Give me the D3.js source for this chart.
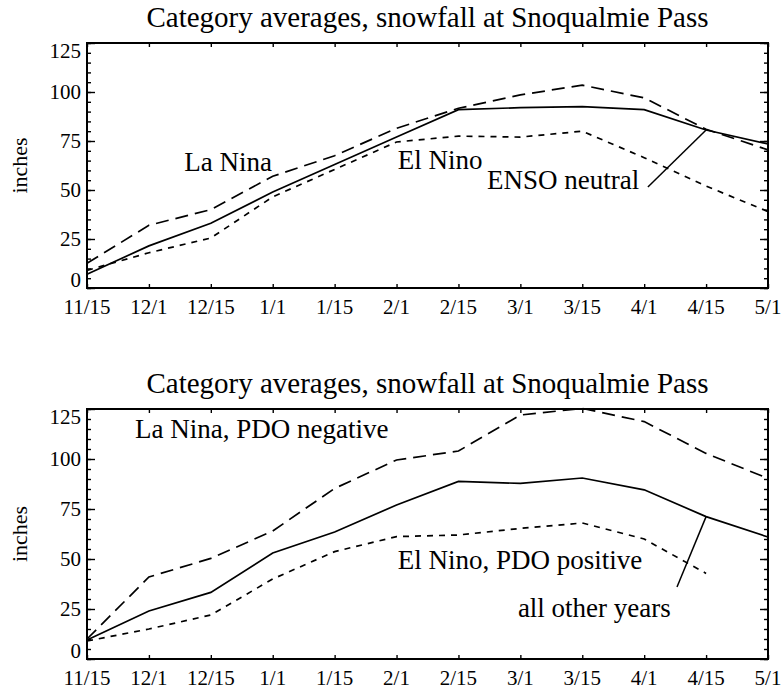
<!DOCTYPE html>
<html>
<head>
<meta charset="utf-8">
<script src="https://cdn.jsdelivr.net/npm/d3@7"></script>
<style>
  body { margin: 0; background: #fff; }
  svg { display: block; }
  text { font-family: "Liberation Serif", "Times New Roman", serif; fill: #000; }
</style>
</head>
<body>
<svg id="chart" width="784" height="696"></svg>
<script>
let dates = ['11/15', '12/1', '12/15', '1/1', '1/15', '2/1', '2/15', '3/1', '3/15', '4/1', '4/15', '5/1'];
let yTicks = [0, 25, 50, 75, 100, 125];
let titleText = 'Category averages, snowfall at Snoqualmie Pass';

// top panel
let ensoNeutral = [7, 21.5, 33, 49, 63, 77, 91, 92, 92.5, 91, 80.6, 73.5];
let laNina = [12.6, 32, 40, 57, 67.5, 81.5, 91.7, 98.5, 103.5, 97, 81, 70.5];
let elNino = [9, 18, 25.5, 46.5, 60.5, 74.5, 77.5, 77, 80, 66.5, 52, 39];

// bottom panel
let allOther = [9.5, 24, 33.3, 53, 63.5, 77, 88.8, 87.8, 90.5, 84.6, 71.2, 61];
let laNinaPdoNeg = [10, 41, 50.3, 64, 85.3, 99.5, 104, 122, 125.3, 118.7, 102.8, 90.3];
let elNinoPdoPos = [9, 15, 22, 40, 53.7, 61.2, 62, 65.3, 68, 60, 42.8, null];

let dashLong = '13,7';
let dashShort = '6,6';

let svg = d3.select('#chart');

function drawPanel(top, bottom, series, labels, leader){
    let left = 87, right = 768;
    let x = d3.scaleLinear().domain([0, dates.length - 1]).range([left, right]);
    let y = d3.scaleLinear().domain([0, 125]).range([bottom, top]);
    let g = svg.append('g');

    g.append('text')
        .attr('x', (left + right) / 2)
        .attr('y', top - 16)
        .attr('text-anchor', 'middle')
        .attr('font-size', 29)
        .text(titleText);

    // minor + major y ticks, both sides, pointing inward
    let minor = d3.range(0, 126, 5);
    g.append('g').attr('transform', 'translate(' + left + ',0)')
        .call(d3.axisRight(y).tickValues(minor).tickSize(4).tickFormat(''));
    g.append('g').attr('transform', 'translate(' + right + ',0)')
        .call(d3.axisLeft(y).tickValues(minor).tickSize(4).tickFormat(''));
    g.append('g').attr('transform', 'translate(' + left + ',0)')
        .call(d3.axisRight(y).tickValues(yTicks).tickSize(8).tickFormat(''));
    g.append('g').attr('transform', 'translate(' + right + ',0)')
        .call(d3.axisLeft(y).tickValues(yTicks).tickSize(8).tickFormat(''));

    // y labels (kept inside the frame height like the original)
    g.append('g').selectAll('text').data(yTicks).join('text')
        .attr('x', left - 6)
        .attr('y', d => Math.max(Math.min(y(d) + 7, bottom - 1), top + 15))
        .attr('text-anchor', 'end')
        .attr('font-size', 21)
        .text(d => d);

    // x ticks, top and bottom inward
    let idx = d3.range(dates.length);
    g.append('g').attr('transform', 'translate(0,' + bottom + ')')
        .call(d3.axisTop(x).tickValues(idx).tickSize(4).tickFormat(''));
    g.append('g').attr('transform', 'translate(0,' + top + ')')
        .call(d3.axisBottom(x).tickValues(idx).tickSize(4).tickFormat(''));
    g.append('g').selectAll('text').data(dates).join('text')
        .attr('x', (d, i) => x(i))
        .attr('y', bottom + 26)
        .attr('text-anchor', 'middle')
        .attr('font-size', 21)
        .text(d => d);

    g.selectAll('.domain').remove();
    g.selectAll('.tick line').attr('stroke', '#000').attr('stroke-width', 1.4);

    g.append('rect')
        .attr('x', left).attr('y', top)
        .attr('width', right - left).attr('height', bottom - top)
        .attr('fill', 'none').attr('stroke', '#000').attr('stroke-width', 2);

    g.append('text')
        .attr('transform', 'translate(27,' + ((top + bottom) / 2) + ') rotate(-90)')
        .attr('text-anchor', 'middle')
        .attr('font-size', 22)
        .text('inches');

    let line = d3.line()
        .defined(d => d != null)
        .x((d, i) => x(i))
        .y(d => y(d));
    series.forEach(s => {
        g.append('path')
            .datum(s.values)
            .attr('fill', 'none')
            .attr('stroke', '#000')
            .attr('stroke-width', 1.7)
            .attr('stroke-dasharray', s.dash)
            .attr('d', line);
    });

    labels.forEach(l => {
        g.append('text')
            .attr('x', x(l.at[0]))
            .attr('y', y(l.at[1]))
            .attr('font-size', 27)
            .text(l.text);
    });

    g.append('line')
        .attr('x1', x(leader.from[0])).attr('y1', y(leader.from[1]))
        .attr('x2', x(leader.to[0])).attr('y2', y(leader.to[1]))
        .attr('stroke', '#000').attr('stroke-width', 1.5);
}

drawPanel(43, 288,
    [{values: ensoNeutral, dash: null}, {values: laNina, dash: dashLong}, {values: elNino, dash: dashShort}],
    [{text: 'La Nina', at: [1.57, 59.7]}, {text: 'El Nino', at: [5.02, 60.7]}, {text: 'ENSO neutral', at: [6.46, 50.5]}],
    {from: [9.06, 51.5], to: [10, ensoNeutral[10]]});

drawPanel(409, 659,
    [{values: allOther, dash: null}, {values: laNinaPdoNeg, dash: dashLong}, {values: elNinoPdoPos, dash: dashShort}],
    [{text: 'La Nina, PDO negative', at: [0.775, 110.5]}, {text: 'El Nino, PDO positive', at: [5.02, 45]}, {text: 'all other years', at: [6.96, 21]}],
    {from: [9.53, 36], to: [10, allOther[10]]});
</script>
</body>
</html>
